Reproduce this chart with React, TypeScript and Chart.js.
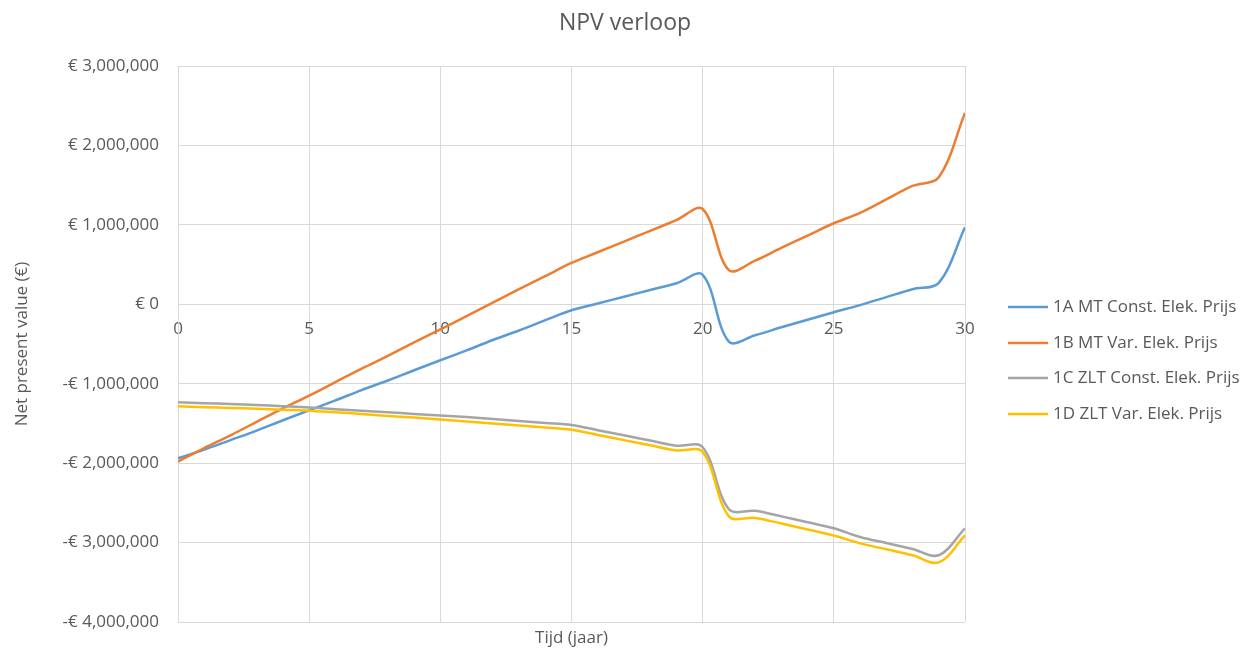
import React, { useEffect, useRef } from "react";
import { Chart, registerables } from "chart.js";

Chart.register(...registerables);

const years = [0,1,2,3,4,5,6,7,8,9,10,11,12,13,14,15,16,17,18,19,20,21,22,23,24,25,26,27,28,29,30];

const seriesNames = [
  "1A MT Const. Elek. Prijs",
  "1B MT Var. Elek. Prijs",
  "1C ZLT Const. Elek. Prijs",
  "1D ZLT Var. Elek. Prijs",
];

const npv1A = [-1940000,-1830000,-1710000,-1590000,-1460000,-1335000,-1210000,-1080000,-960000,-830000,-705000,-580000,-450000,-330000,-200000,-75000,10000,95000,180000,265000,370000,-470000,-390000,-290000,-195000,-100000,-10000,90000,190000,270000,970000];
const npv1B = [-1980000,-1810000,-1650000,-1480000,-1310000,-1150000,-980000,-810000,-650000,-480000,-315000,-150000,20000,190000,355000,520000,655000,790000,925000,1060000,1200000,430000,550000,710000,865000,1020000,1150000,1320000,1490000,1600000,2410000];
const npv1C = [-1234000,-1245000,-1255000,-1268000,-1283000,-1300000,-1320000,-1340000,-1360000,-1380000,-1400000,-1420000,-1445000,-1470000,-1495000,-1520000,-1585000,-1650000,-1715000,-1780000,-1800000,-2580000,-2600000,-2670000,-2745000,-2820000,-2930000,-3005000,-3080000,-3160000,-2820000];
const npv1D = [-1285000,-1295000,-1305000,-1315000,-1328000,-1340000,-1360000,-1380000,-1405000,-1425000,-1450000,-1475000,-1500000,-1525000,-1550000,-1580000,-1645000,-1710000,-1775000,-1840000,-1860000,-2670000,-2690000,-2760000,-2835000,-2910000,-3010000,-3085000,-3160000,-3250000,-2910000];

const seriesColors = ["#5B9BD5", "#ED7D31", "#A5A5A5", "#FFC000"];
const seriesValues = [npv1A, npv1B, npv1C, npv1D];

const chartTitle = "NPV verloop";
const xTitle = "Tijd (jaar)";
const yTitle = "Net present value (€)";

const FONT = "'Open Sans', sans-serif";
const TEXT = "#595959";
const GRID = "#D9D9D9";

const fmtEuro = (v: number) => {
  const s = Math.abs(v).toLocaleString("en-US");
  return v < 0 ? "-€ " + s : "€ " + s;
};

const extrasPlugin = {
  id: "extras",
  afterDraw(chart: any) {
    const ctx = chart.ctx;
    const area = chart.chartArea;
    ctx.save();
    ctx.fillStyle = TEXT;
    ctx.textBaseline = "middle";
    // chart title
    ctx.font = `23px ${FONT}`;
    ctx.textAlign = "center";
    ctx.fillText(chartTitle, 625, 23);
    // x axis title
    ctx.font = `17px ${FONT}`;
    ctx.fillText(xTitle, (area.left + area.right) / 2, 638);
    // legend
    ctx.font = `17px ${FONT}`;
    ctx.textAlign = "left";
    const itemY = [307, 343, 378, 414];
    seriesNames.forEach((name, i) => {
      const y = itemY[i];
      ctx.strokeStyle = seriesColors[i];
      ctx.lineWidth = 2.5;
      ctx.beginPath();
      ctx.moveTo(1008, y);
      ctx.lineTo(1048, y);
      ctx.stroke();
      ctx.fillStyle = TEXT;
      ctx.fillText(name, 1053, y);
    });
    ctx.restore();
  },
};

export default function App() {
  const canvasRef = useRef<HTMLCanvasElement | null>(null);

  useEffect(() => {
    if (!canvasRef.current) return;
    const chart = new Chart(canvasRef.current, {
      type: "line",
      data: {
        datasets: seriesNames.map((name, i) => ({
          label: name,
          data: years.map((x, j) => ({ x, y: seriesValues[i][j] })),
          borderColor: seriesColors[i],
          backgroundColor: seriesColors[i],
          borderWidth: 2.5,
          pointRadius: 0,
          tension: 0.35,
          fill: false,
          order: 4 - i,
        })),
      },
      options: {
        animation: false,
        responsive: false,
        maintainAspectRatio: false,
        layout: { padding: { left: 0, right: 294, top: 66, bottom: 31 } },
        plugins: {
          legend: { display: false },
          tooltip: { enabled: false },
          title: { display: false },
        },
        scales: {
          x: {
            type: "linear",
            min: 0,
            max: 30,
            position: { y: 0 } as any,
            ticks: {
              stepSize: 5,
              color: TEXT,
              font: { family: FONT, size: 17 },
              padding: 15,
              maxRotation: 0,
            },
            grid: { color: GRID, lineWidth: 1, drawTicks: false },
            border: { display: false },
          },
          y: {
            min: -4000000,
            max: 3000000,
            afterFit: (s: any) => { s.width = 178; },
            ticks: {
              stepSize: 1000000,
              color: TEXT,
              font: { family: FONT, size: 17 },
              padding: 19,
              callback: (v: any) => fmtEuro(Number(v)),
            },
            grid: { color: GRID, lineWidth: 1, drawTicks: false },
            border: { display: true, color: GRID, width: 1 },
            title: {
              display: true,
              text: yTitle,
              color: TEXT,
              font: { family: FONT, size: 17 },
              padding: { top: 12, bottom: 0 },
            },
          },
        },
      },
      plugins: [extrasPlugin],
    });
    return () => chart.destroy();
  }, []);

  return (
    <div style={{ position: "absolute", left: 0, top: 0, width: 1259, height: 653, background: "#fff" }}>
      <canvas ref={canvasRef} width={1259} height={653} style={{ width: 1259, height: 653 }} />
    </div>
  );
}
